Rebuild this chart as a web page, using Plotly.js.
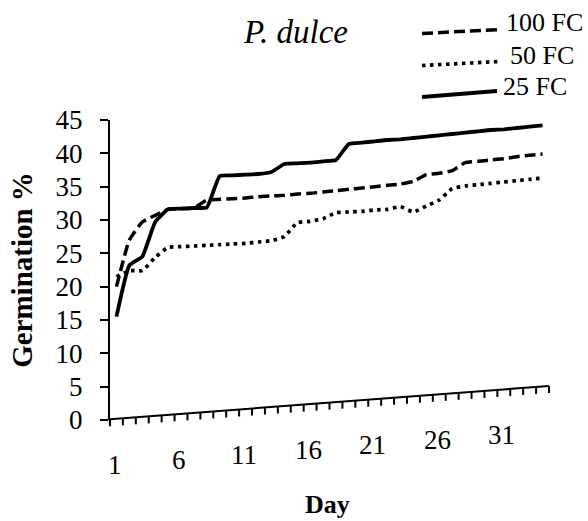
<!DOCTYPE html>
<html><head><meta charset="utf-8">
<script src="https://cdn.plot.ly/plotly-3.0.1.min.js"></script>
<style>html,body{margin:0;padding:0;background:#fff;}</style>
</head><body><div id="chart" style="width:588px;height:521px;"></div>
<script>
const days = [1,2,3,4,5,6,7,8,9,10,11,12,13,14,15,16,17,18,19,20,21,22,23,24,25,26,27,28,29,30,31,32,33,34];
const fc100 = [20.0,27.0,29.7,30.7,31.6,31.7,31.8,33.0,33.1,33.2,33.3,33.5,33.6,33.7,33.9,34.0,34.2,34.4,34.6,34.8,35.0,35.2,35.4,35.8,36.8,37.0,37.4,38.6,38.8,39.0,39.2,39.5,39.7,39.9];
const fc50 = [21.5,22.4,22.4,24.4,25.9,26.0,26.1,26.2,26.3,26.4,26.5,26.7,26.9,27.5,29.6,29.8,30.2,31.1,31.2,31.3,31.5,31.6,32.0,31.2,32.1,33.0,34.7,35.1,35.3,35.5,35.7,35.9,36.1,36.3];
const fc25 = [15.5,23.2,24.5,29.7,31.6,31.7,31.8,31.9,36.6,36.7,36.8,36.9,37.2,38.4,38.5,38.6,38.8,39.0,41.4,41.6,41.8,42.0,42.1,42.3,42.5,42.7,42.9,43.1,43.3,43.5,43.6,43.8,44.0,44.2];
const seriesNames = ['100 FC','50 FC','25 FC'];
const xTickDays = [1,6,11,16,21,26,31];
const yTickVals = [0,5,10,15,20,25,30,35,40,45];
const chartTitle = 'P. dulce';
const xTitle = 'Day';
const yTitle = 'Germination %';

const FONT = 'Liberation Serif, Times New Roman, serif';
const W = 588, H = 521, L = 110, R = 39, T = 120, B = 101;
const PW = W - L - R, PH = H - T - B;
const px = xp => (xp - L) / PW;
const py = yp => (H - B - yp) / PH;
// slanted (sheared) x axis baseline, in pixels
const axisY = xp => 419.3 - 0.0759 * (xp - L);
const nCat = days.length;

const styles = [
  {dash: '11px,5px', width: 3.5},
  {dash: '3.5px,4.5px', width: 3.7},
  {dash: 'solid', width: 3.8}
];
const seriesVals = [fc100, fc50, fc25];

const traces = seriesVals.map((v, i) => ({
  x: days, y: v, type: 'scatter', mode: 'lines', name: seriesNames[i],
  line: {color: '#000', width: styles[i].width, dash: styles[i].dash, shape: 'spline', smoothing: 0.4},
  showlegend: false, hoverinfo: 'skip'
}));

const shapes = [];
const annotations = [];
// slanted axis line
shapes.push({type: 'line', xref: 'paper', yref: 'paper',
  x0: px(L), y0: py(axisY(L)), x1: px(L + PW), y1: py(axisY(L + PW)),
  line: {color: '#000', width: 2}});
// tick marks at category boundaries
for (let k = 0; k <= nCat; k++) {
  const xp = L + k * PW / nCat;
  shapes.push({type: 'line', xref: 'paper', yref: 'paper',
    x0: px(xp), y0: py(axisY(xp)), x1: px(xp), y1: py(axisY(xp) + 7),
    line: {color: '#000', width: 2}});
}
// tick labels following the slant
xTickDays.forEach(d => {
  const xp = L + (d - 0.5) * PW / nCat;
  annotations.push({xref: 'x', yref: 'paper', x: d - 0.15, y: py(axisY(xp) + 46),
    text: String(d), showarrow: false, xanchor: 'center', yanchor: 'middle',
    font: {family: FONT, size: 27, color: '#000'}});
});
// x title
annotations.push({xref: 'paper', yref: 'paper', x: px(327), y: py(505), text: xTitle,
  showarrow: false, xanchor: 'center', yanchor: 'middle',
  font: {family: FONT, size: 26, color: '#000', weight: 'bold'}});

// custom legend
const legRows = [
  {x0: 422, y0: 33.5, x1: 500, y1: 29.5, tx: 504, ty: 22},
  {x0: 422, y0: 65.5, x1: 499, y1: 61.5, tx: 508, ty: 55},
  {x0: 422, y0: 97, x1: 497, y1: 91, tx: 501, ty: 86}
];
legRows.forEach((r, i) => {
  shapes.push({type: 'line', xref: 'paper', yref: 'paper',
    x0: px(r.x0), y0: py(r.y0), x1: px(r.x1), y1: py(r.y1),
    line: {color: '#000', width: styles[i].width, dash: styles[i].dash}});
  annotations.push({xref: 'paper', yref: 'paper', x: px(r.tx), y: py(r.ty),
    text: seriesNames[i], showarrow: false, xanchor: 'left', yanchor: 'middle',
    font: {family: FONT, size: 26, color: '#000'}});
});

const layout = {
  width: W, height: H,
  margin: {l: L, r: R, t: T, b: B, pad: 0},
  paper_bgcolor: '#fff', plot_bgcolor: '#fff',
  showlegend: false,
  title: {text: chartTitle, x: 296 / W, xanchor: 'center', xref: 'container',
    y: 1 - 31 / H, yanchor: 'middle', yref: 'container',
    font: {family: FONT, size: 33, color: '#000', style: 'italic'}},
  xaxis: {range: [0.5, 34.5], showline: false, showticklabels: false, ticks: '',
    showgrid: false, zeroline: false, fixedrange: true},
  yaxis: {range: [0, 45], tickvals: yTickVals, ticktext: yTickVals.map(String),
    ticks: 'outside', ticklen: 8, tickwidth: 2, tickcolor: '#000',
    showline: true, linewidth: 2, linecolor: '#000', showgrid: false, zeroline: false,
    ticklabelstandoff: 12,
    tickfont: {family: FONT, size: 27, color: '#000'},
    title: {text: yTitle, standoff: 14, font: {family: FONT, size: 29, color: '#000', weight: 'bold'}}},
  shapes: shapes,
  annotations: annotations
};

Plotly.newPlot('chart', traces, layout, {displayModeBar: false, staticPlot: true});
</script>
</body></html>
